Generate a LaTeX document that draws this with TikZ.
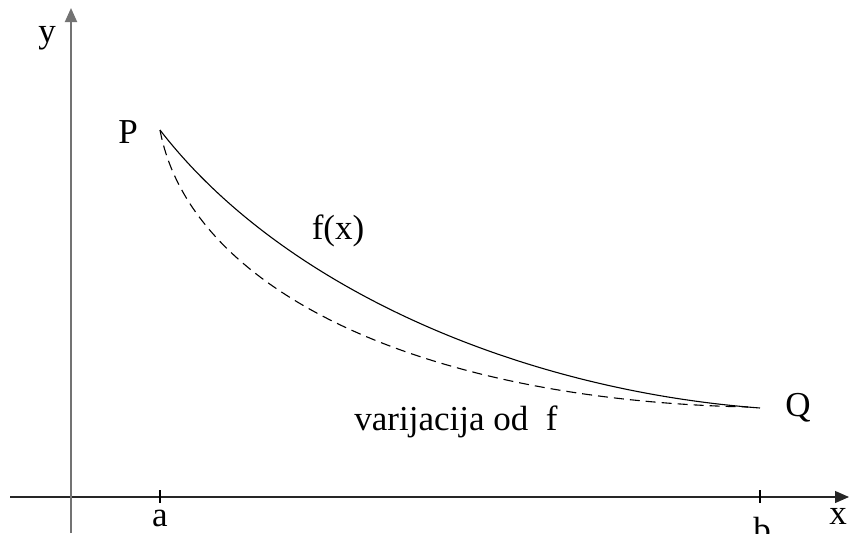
\documentclass[tikz,border=0pt]{standalone}
\usepackage{fontspec}
\setmainfont{Liberation Serif}
\usetikzlibrary{arrows.meta}
\begin{document}
\begin{tikzpicture}[x=1pt,y=-1pt,
  lbl/.style={inner sep=0pt,font=\fontsize{35}{40}\selectfont},
  axis/.style={-{Triangle[length=14pt,width=12pt]}},
  curve/.style={line width=1.1pt},
  tick/.style={line width=1.1pt}]
\useasboundingbox (0,0) rectangle (849,533);
% axes
\coordinate (xs) at (10,497);
\coordinate (xe) at (849,497);
\coordinate (ys) at (71,533);
\coordinate (ye) at (71,8);
\draw[axis,line width=1.2pt,black!85] (xs) -- (xe);
\draw[axis,line width=1.8pt,black!55] (ys) -- (ye);
% ticks
\coordinate (a1) at (160,490); \coordinate (a2) at (160,503);
\coordinate (b1) at (760,490); \coordinate (b2) at (760,503);
\draw[tick] (a1) -- (a2);
\draw[tick] (b1) -- (b2);
% points
\coordinate (P) at (160,130);
\coordinate (Q) at (760,408);
% curves
\draw[curve] (P) .. controls (282,288) and (520,390) .. (Q);
\draw[curve,dash pattern=on 10pt off 6pt] (P) .. controls (190,290) and (420,400) .. (748,407);
% labels
\node[lbl] (ylab) at (47,38) {y};
\node[lbl] (xlab) at (838,516) {x};
\node[lbl] (alab) at (160,518) {a};
\node[lbl] (blab) at (762,530) {b};
\node[lbl] (Plab) at (128,132) {P};
\node[lbl] (Qlab) at (798,408) {Q};
\node[lbl] (flab) at (338,231) {f(x)};
\node[lbl] (vlab) at (456,422) {varijacija od\ \ f};
\end{tikzpicture}
\end{document}
